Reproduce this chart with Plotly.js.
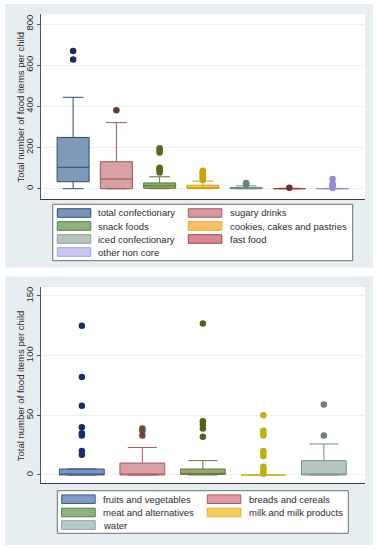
<!DOCTYPE html>
<html>
<head>
<meta charset="utf-8">
<script src="https://cdn.plot.ly/plotly-3.0.1.min.js"></script>
<style>html,body{margin:0;padding:0;background:#fff;}#chart{width:379px;height:550px;}</style>
</head>
<body>
<div id="chart"></div>
<script>
// ---------- DATA ----------
// Top panel: non-core foods
var topCategories = ["total confectionary", "sugary drinks", "snack foods", "cookies, cakes and pastries", "iced confectionary", "fast food", "other non core"];
var topQ1     = [34, 0, 2, 1, 0, 0, 0];
var topMedian = [104, 47, 14, 6, 2, 0, 0];
var topQ3     = [249, 131, 28, 17, 6, 1, 1];
var topLower  = [0, 0, 0, 0, 0, 0, 0];
var topUpper  = [444, 321, 58, 37, 14, 2, 2];
var topOutliers = [
  [669, 628],
  [381],
  [197, 185, 176, 102, 96, 88, 79],
  [87, 82, 77, 72, 67, 62, 57, 52, 47, 42],
  [28, 24, 20],
  [5],
  [47, 24, 16, 8, 3]
];

// Bottom panel: core foods
var botCategories = ["fruits and vegetables", "breads and cereals", "meat and alternatives", "milk and milk products", "water"];
var botQ1     = [0, 0, 0.5, 0, 0];
var botMedian = [0, 0, 1, 0, 0];
var botQ3     = [5, 10, 5, 0, 12];
var botLower  = [0, 0, 0, 0, 0];
var botUpper  = [5, 23, 12, 0, 26];
var botOutliers = [
  [125, 82, 58, 40, 35, 33, 20, 17],
  [39, 37, 33],
  [127, 45, 42, 39, 32],
  [50, 37, 35, 33, 20, 18, 16, 7, 5, 3, 1],
  [59, 33]
];

// Tick labels
var topTicks = [0, 200, 400, 600, 800];
var botTicks = [0, 50, 100, 150];
var yTitle = "Total number of food items per child";

// ---------- STYLES ----------
var topLine = ["#2d4a7a", "#9a5358", "#5b7a35", "#cfa414", "#6e8a82", "#9a3a44", "#9a92d8"];
var topFill = ["#7f9ab6", "#d9a0a3", "#93a870", "#f5c46a", "#b3c2bd", "#e09aa6", "#cbc7ee"];
var topDot  = ["#1c2a66", "#5e3f30", "#5a6a1f", "#c9a400", "#6d827e", "#6b2a2a", "#958bd6"];
var topLegFill = ["#7b93b5", "#d39a9e", "#8db27d", "#fcbf69", "#b8c4c0", "#d98894", "#c9c5ec"];
var topLegLine = ["#2d4d7d", "#a05c60", "#4f8040", "#e8a838", "#8ea09a", "#a84355", "#a59fe0"];

var botLine = ["#3a5285", "#a05a60", "#66763a", "#c8b830", "#7a8e8a"];
var botFill = ["#8396b8", "#d8a0a2", "#9aa878", "#f0d870", "#b8c6c2"];
var botDot  = ["#1c2a66", "#6b4a3a", "#556020", "#bcb012", "#6f7f80"];
var botLegFill = ["#7f98c0", "#dd9aa0", "#90b080", "#f5cc60", "#b9cbc7"];
var botLegLine = ["#3d5c92", "#a85a64", "#4f8040", "#e0b030", "#8aa29c"];

var W = 379, H = 550;
function px(x) { return x / W; }
function py(y) { return 1 - y / H; }
var FONT = "Liberation Sans, Arial, sans-serif";

var traces = [];
function addPanel(cats, q1, med, q3, lo, hi, outs, lineC, fillC, dotC, xa, ya) {
  cats.forEach(function (c, i) {
    traces.push({
      type: "box", x: [c], q1: [q1[i]], median: [med[i]], q3: [q3[i]],
      lowerfence: [lo[i]], upperfence: [hi[i]],
      xaxis: xa, yaxis: ya, width: 0.74, whiskerwidth: 0.65,
      boxpoints: false, line: { color: lineC[i], width: 1 }, fillcolor: fillC[i],
      showlegend: false, hoverinfo: "skip"
    });
    traces.push({
      type: "scatter", mode: "markers", x: outs[i].map(function () { return c; }), y: outs[i],
      xaxis: xa, yaxis: ya, marker: { color: dotC[i], size: 6.5 },
      showlegend: false, hoverinfo: "skip"
    });
  });
}
addPanel(topCategories, topQ1, topMedian, topQ3, topLower, topUpper, topOutliers, topLine, topFill, topDot, "x", "y");
addPanel(botCategories, botQ1, botMedian, botQ3, botLower, botUpper, botOutliers, botLine, botFill, botDot, "x2", "y2");

// ---------- LAYOUT PIECES ----------
var shapes = [
  // panel backgrounds
  { type: "rect", xref: "paper", yref: "paper", x0: px(5), x1: px(373), y0: py(267.5), y1: py(4), fillcolor: "#e6eef1", line: { width: 0 }, layer: "below" },
  { type: "rect", xref: "paper", yref: "paper", x0: px(5), x1: px(373), y0: py(545), y1: py(276.5), fillcolor: "#e6eef1", line: { width: 0 }, layer: "below" },
  // plot areas
  { type: "rect", xref: "x domain", yref: "y domain", x0: 0, x1: 1, y0: 0, y1: 1, fillcolor: "#ffffff", line: { width: 0 }, layer: "below" },
  { type: "rect", xref: "x2 domain", yref: "y2 domain", x0: 0, x1: 1, y0: 0, y1: 1, fillcolor: "#ffffff", line: { width: 0 }, layer: "below" },
  // legend boxes
  { type: "rect", xref: "paper", yref: "paper", x0: px(52.7), x1: px(352.7), y0: py(260.7), y1: py(204.3), fillcolor: "#ffffff", line: { color: "#6e6e6e", width: 1 }, layer: "below" },
  { type: "rect", xref: "paper", yref: "paper", x0: px(57.3), x1: px(348.3), y0: py(533.3), y1: py(490.7), fillcolor: "#ffffff", line: { color: "#6e6e6e", width: 1 }, layer: "below" }
];
var annotations = [];

function addLegend(cats, fills, lines, swX, txX, rowY) {
  cats.forEach(function (c, i) {
    var col = i % 2, row = Math.floor(i / 2);
    var cy = rowY[row];
    shapes.push({ type: "rect", xref: "paper", yref: "paper",
      x0: px(swX[col]), x1: px(swX[col] + 33.5), y0: py(cy + 4.3), y1: py(cy - 4.3),
      fillcolor: fills[i], line: { color: lines[i], width: 1 } });
    annotations.push({ xref: "paper", yref: "paper", x: px(txX[col] - 1), y: py(cy),
      xanchor: "left", yanchor: "middle", showarrow: false, text: c,
      font: { family: FONT, size: 9.5, color: "#2b2b2b" } });
  });
}
addLegend(topCategories, topLegFill, topLegLine, [57.3, 188.3], [97.3, 229], [213, 226, 239, 252]);
addLegend(botCategories, botLegFill, botLegLine, [61.7, 207.3], [101.7, 247.7], [499.2, 512.5, 525]);

// y-axis titles
annotations.push({ xref: "paper", yref: "paper", x: px(20.7), y: py(106.7), textangle: -90,
  xanchor: "center", yanchor: "middle", showarrow: false, text: yTitle,
  font: { family: FONT, size: 9.5, color: "#2b2b2b" } });
annotations.push({ xref: "paper", yref: "paper", x: px(20.7), y: py(385.5), textangle: -90,
  xanchor: "center", yanchor: "middle", showarrow: false, text: yTitle,
  font: { family: FONT, size: 9.5, color: "#2b2b2b" } });

var xCommon = { type: "category", showticklabels: false, ticks: "", showgrid: false, zeroline: false,
  showline: true, linecolor: "#3c3c3c", linewidth: 1, domain: [px(40.7), px(365)] };
var yCommon = { tickangle: -90, ticks: "outside", ticklen: 3, tickcolor: "#555", tickwidth: 1,
  showline: true, linecolor: "#555", linewidth: 1, showgrid: true, gridcolor: "#eef2f4", gridwidth: 1,
  zeroline: false, tickfont: { family: FONT, size: 9.5, color: "#2b2b2b" } };

var layout = {
  width: W, height: H, margin: { l: 0, r: 0, t: 0, b: 0 },
  paper_bgcolor: "#ffffff", plot_bgcolor: "#ffffff", showlegend: false,
  font: { family: FONT },
  xaxis: Object.assign({}, xCommon, { anchor: "y", categoryarray: topCategories, categoryorder: "array", range: [-0.75, 6.75] }),
  yaxis: Object.assign({}, yCommon, { anchor: "x", domain: [py(199), py(14)], range: [-50, 848.6], tickvals: topTicks, ticktext: topTicks.map(String) }),
  xaxis2: Object.assign({}, xCommon, { anchor: "y2", categoryarray: botCategories, categoryorder: "array", range: [-0.68, 4.68] }),
  yaxis2: Object.assign({}, yCommon, { anchor: "x2", domain: [py(483.3), py(287)], range: [-6.96, 157.5], tickvals: botTicks, ticktext: botTicks.map(String) }),
  shapes: shapes, annotations: annotations, boxmode: "overlay"
};

Plotly.newPlot("chart", traces, layout, { displayModeBar: false, staticPlot: true });
</script>
</body>
</html>
